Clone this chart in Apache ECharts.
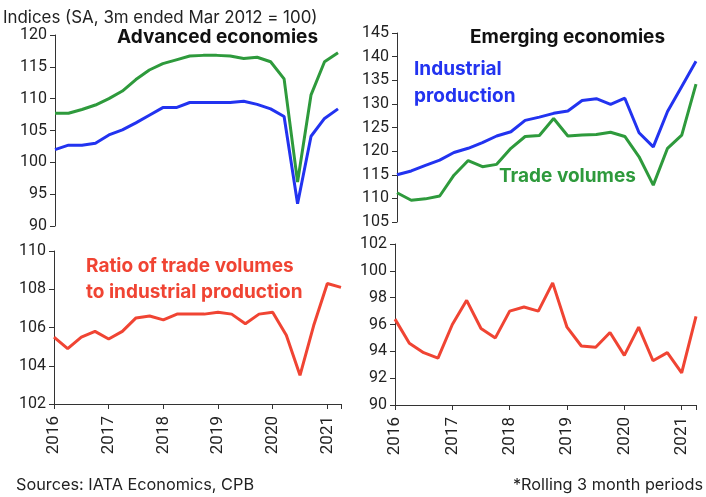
<!DOCTYPE html>
<html>
<head>
<meta charset="utf-8">
<script src="https://cdn.jsdelivr.net/npm/echarts@6/dist/echarts.min.js"></script>
<style>
  html, body { margin: 0; padding: 0; background: #fff; }
  #chart { width: 706px; height: 497px; }
</style>
</head>
<body>
<div id="chart"></div>
<script>
// quarterly points, 2016 Q1 .. 2021 Q2 (decimal years)
var quarters = [];
for (var i = 0; i < 22; i++) quarters.push(2016 + i * 0.25);

var advTrade = [107.7, 107.7, 108.3, 109.0, 110.0, 111.2, 113.0, 114.5, 115.5, 116.1, 116.7,
                116.8, 116.8, 116.7, 116.3, 116.5, 115.8, 113.1, 96.9, 110.6, 115.8, 117.2];
var advIP = [102.0, 102.7, 102.7, 103.0, 104.3, 105.1, 106.2, 107.4, 108.6, 108.6, 109.4,
             109.4, 109.4, 109.4, 109.6, 109.1, 108.4, 107.2, 93.5, 104.1, 106.9, 108.4];
var emIP = [115.0, 115.8, 117.0, 118.1, 119.7, 120.6, 121.8, 123.2, 124.1, 126.5, 127.2,
            128.0, 128.5, 130.7, 131.1, 129.9, 131.2, 123.9, 120.9, 128.4, 133.7, 139.0];
var emTrade = [111.2, 109.6, 109.9, 110.5, 114.9, 118.0, 116.7, 117.2, 120.6, 123.1, 123.3,
               126.9, 123.2, 123.4, 123.5, 124.0, 123.1, 118.8, 112.8, 120.6, 123.4, 134.2];
var advRatio = [105.5, 104.9, 105.5, 105.8, 105.4, 105.8, 106.5, 106.6, 106.4, 106.7, 106.7,
                106.7, 106.8, 106.7, 106.2, 106.7, 106.8, 105.6, 103.5, 106.1, 108.3, 108.1];
var emRatio = [96.4, 94.6, 93.9, 93.5, 96.0, 97.8, 95.7, 95.0, 97.0, 97.3, 97.0,
               99.1, 95.8, 94.4, 94.3, 95.4, 93.7, 95.8, 93.3, 93.9, 92.4, 96.6];

var BLUE = '#2233f0';
var GREEN = '#2e9a3c';
var RED = '#f04433';
var FONT = 'Inter';
var NUMFONT = 'Roboto';

function pairs(vals) {
    return vals.map(function (v, i) { return [quarters[i], v]; });
}

function xAxis(idx, showLabels) {
    return {
        type: 'value', gridIndex: idx, min: 2016, max: 2021.25, interval: 1,
        axisLine: { show: showLabels, onZero: false, lineStyle: { color: '#333', width: 1 } },
        axisTick: { show: showLabels, length: 5, lineStyle: { color: '#333' } },
        axisLabel: {
            show: showLabels, rotate: 90, margin: 12, color: '#222', fontSize: 17, fontFamily: NUMFONT,
            formatter: function (v) { return Number.isInteger(v) ? String(v) : ''; }
        },
        splitLine: { show: false }
    };
}

function yAxis(idx, min, max, step) {
    return {
        type: 'value', gridIndex: idx, min: min, max: max, interval: step,
        axisLine: { show: true, lineStyle: { color: '#333', width: 1 } },
        axisTick: { show: true, length: 5, lineStyle: { color: '#333' } },
        axisLabel: { color: '#222', fontSize: 16, fontFamily: NUMFONT, margin: 8 },
        splitLine: { show: false }
    };
}

function line(idx, vals, color) {
    return {
        type: 'line', xAxisIndex: idx, yAxisIndex: idx, data: pairs(vals),
        showSymbol: false, symbol: 'none', silent: true,
        lineStyle: { color: color, width: 3 }
    };
}

function label(x, y, text, color, size, weight, lh) {
    return {
        type: 'text', left: x, top: y,
        style: {
            text: text, fill: color, fontSize: size, fontWeight: weight || 'normal',
            fontFamily: FONT, lineHeight: lh || size + 6
        }
    };
}

var chart = echarts.init(document.getElementById('chart'));
option = {
    animation: false,
    grid: [
        { left: 55, top: 35, width: 283, height: 191 },
        { left: 397, top: 33, right: 10, height: 189 },
        { left: 54, top: 251, width: 287, height: 153 },
        { left: 395, top: 244, right: 10, height: 161 }
    ],
    xAxis: [xAxis(0, false), xAxis(1, false), xAxis(2, true), xAxis(3, true)],
    yAxis: [yAxis(0, 90, 120, 5), yAxis(1, 105, 145, 5), yAxis(2, 102, 110, 2), yAxis(3, 90, 102, 2)],
    series: [
        line(0, advTrade, GREEN),
        line(0, advIP, BLUE),
        line(1, emTrade, GREEN),
        line(1, emIP, BLUE),
        line(2, advRatio, RED),
        line(3, emRatio, RED)
    ],
    graphic: [
        label(3, 7, 'Indices (SA, 3m ended Mar 2012 = 100)', '#222', 16.9, 'normal', 22),
        label(117, 25, 'Advanced economies', '#111', 19, 'bold', 24),
        label(470, 25, 'Emerging economies', '#111', 19, 'bold', 24),
        label(414, 56, 'Industrial\nproduction', BLUE, 19, 'bold', 27),
        label(499, 163, 'Trade volumes', GREEN, 19, 'bold', 27),
        label(86, 253, 'Ratio of trade volumes\nto industrial production', RED, 19, 'bold', 26),
        label(16, 473, 'Sources: IATA Economics, CPB', '#222', 16.3, 'normal', 24),
        { type: 'text', right: 3, top: 473,
          style: { text: '*Rolling 3 month periods', fill: '#222', fontSize: 16.3, fontFamily: FONT, lineHeight: 24 } }
    ]
};
chart.setOption(option);
</script>
</body>
</html>
